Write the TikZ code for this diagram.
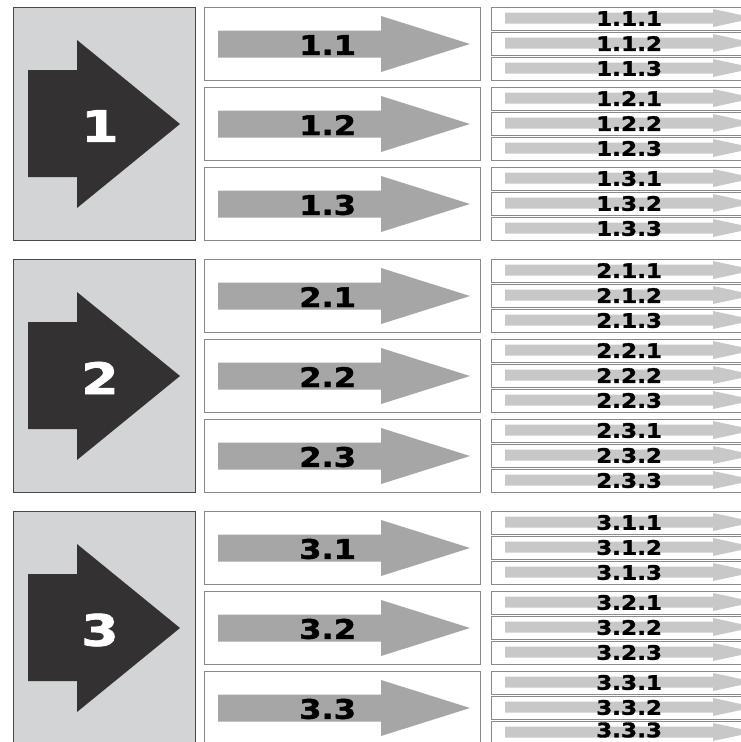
\documentclass[tikz,border=0pt]{standalone}
\usepackage{fontspec}
\usepackage{graphicx}
\newfontfamily\digitfont[BoldFeatures={FakeBold=1.6}]{DejaVu Sans}
\definecolor{groupgray}{RGB}{211,212,214}
\definecolor{groupline}{RGB}{72,72,72}
\definecolor{boxline}{RGB}{138,138,138}
\definecolor{bigarrow}{RGB}{51,49,50}
\definecolor{midarrow}{RGB}{166,166,166}
\definecolor{smallarrow}{RGB}{200,200,200}

\begin{document}
\begin{tikzpicture}[x=0.03cm,y=-0.03cm,
  groupbox/.style={draw=groupline,fill=groupgray,line width=1.1pt,
                   minimum width=5.46cm,minimum height=6.99cm,
                   anchor=north west,inner sep=0pt},
  subbox/.style={draw=boxline,fill=white,line width=0.9pt,
                 minimum width=8.28cm,minimum height=2.19cm,
                 anchor=north west,inner sep=0pt},
  itembox/.style={draw=boxline,fill=white,line width=0.7pt,
                  minimum width=7.8cm,minimum height=0.69cm,
                  anchor=north west,inner sep=0pt},
  biglabel/.style={anchor=west,inner sep=0pt,text=white,
                   font=\digitfont\bfseries\fontsize{37}{37}\selectfont},
  sublabel/.style={anchor=west,inner sep=0pt,text=black,
                   font=\digitfont\bfseries\fontsize{23}{23}\selectfont},
  itemlabel/.style={anchor=west,inner sep=0pt,text=black,
                    font=\digitfont\bfseries\fontsize{17}{17}\selectfont}]
\useasboundingbox (0,0) rectangle (741,742);
\clip (0,0) rectangle (741,742);
\fill[white] (0,0) rectangle (741,742);
\foreach \g in {1,2,3}{
  \pgfmathsetmacro{\ty}{7+(\g-1)*252}
  % big group box with its dark arrow
  \node[groupbox](grp\g) at (13,\ty) {};
  \fill[bigarrow] (28,\ty+63) -- (77,\ty+63) -- (77,\ty+33) -- (180,\ty+117)
    -- (77,\ty+201) -- (77,\ty+170) -- (28,\ty+170) -- cycle;
  \node[biglabel](num\g) at (81,\ty+119) {\scalebox{1.24}[1]{\g}};
  \foreach \s in {1,2,3}{
    \pgfmathsetmacro{\my}{\ty+(\s-1)*80}
    \node[subbox](sub\g-\s) at (204,\my) {};
    \fill[midarrow] (218,\my+23.5) -- (381,\my+23.5) -- (381,\my+9) -- (470,\my+37)
      -- (381,\my+65) -- (381,\my+50.5) -- (218,\my+50.5) -- cycle;
    \node[sublabel](subl\g-\s) at (299,\my+38) {\scalebox{1.19}[1]{\g.\s}};
    \foreach \k in {1,2,3}{
      \pgfmathsetmacro{\ry}{\my+(\k-1)*25}
      \pgfmathsetmacro{\ly}{min(\ry+11.5,730)} % last row sits higher
      \node[itembox](item\g-\s-\k) at (491,\ry) {};
      \fill[smallarrow] (505,\ry+5.5) -- (713,\ry+5.5) -- (713,\ry+2) -- (755,\ry+11)
        -- (713,\ry+20) -- (713,\ry+16.5) -- (505,\ry+16.5) -- cycle;
      \node[itemlabel](iteml\g-\s-\k) at (596,\ly) {\scalebox{1.16}[1]{\g.\s.\k}};
    }
  }
}
\end{tikzpicture}
\end{document}
